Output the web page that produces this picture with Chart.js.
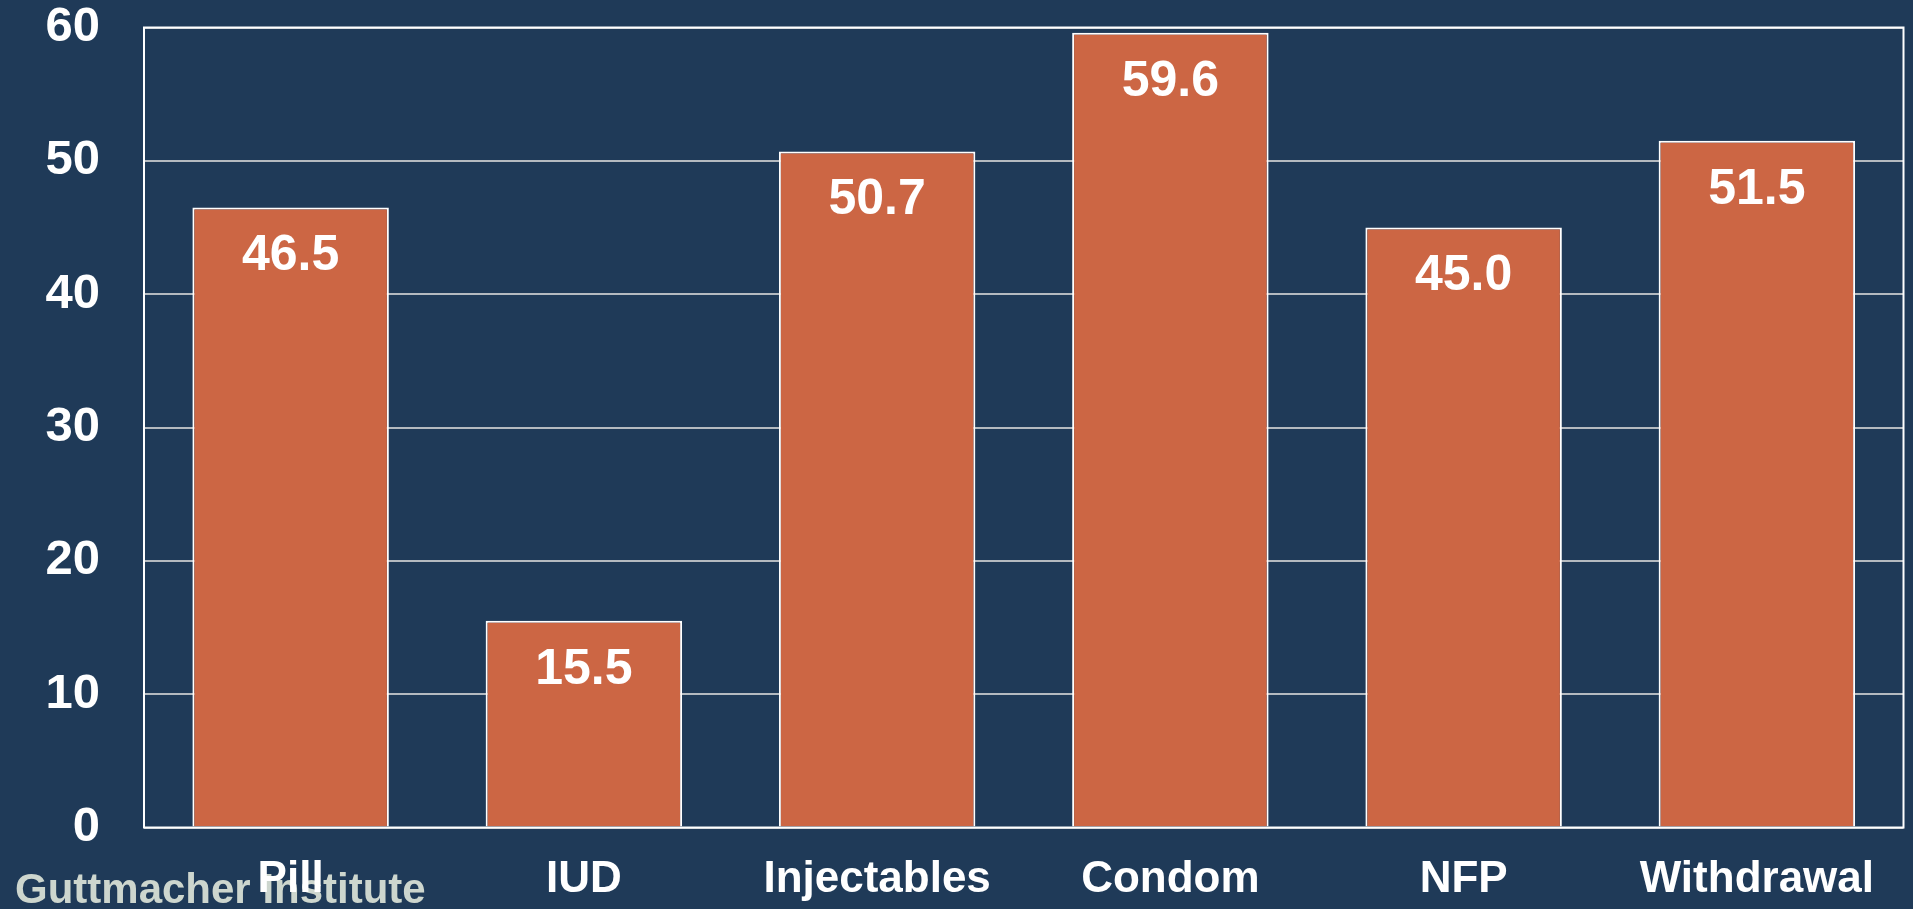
<!DOCTYPE html>
<html>
<head>
<meta charset="utf-8">
<script src="https://cdn.jsdelivr.net/npm/chart.js@4"></script>
<style>
  html, body { margin: 0; padding: 0; background: #1F3A58; overflow: hidden; }
  #wrap { position: relative; width: 1913px; height: 909px; }
</style>
</head>
<body>
<div id="wrap"><canvas id="c" width="1913" height="909"></canvas></div>
<script>
const categories = ["Pill", "IUD", "Injectables", "Condom", "NFP", "Withdrawal"];
const values = [46.5, 15.5, 50.7, 59.6, 45.0, 51.5];
const yTicks = [0, 10, 20, 30, 40, 50, 60];
const sourceText = "Guttmacher Institute";

const BG = "#1F3A58";
const FONT = "'Liberation Sans', Arial, sans-serif";

const bgPlugin = {
  id: "bg",
  beforeDraw(chart) {
    const ctx = chart.ctx;
    ctx.save();
    ctx.fillStyle = BG;
    ctx.fillRect(0, 0, chart.width, chart.height);
    ctx.fillStyle = "#CDD6CE";
    ctx.font = "bold 42px " + FONT;
    ctx.textAlign = "left";
    ctx.textBaseline = "alphabetic";
    ctx.fillText(sourceText, 15, 903);
    ctx.restore();
  }
};

const framePlugin = {
  id: "frame",
  afterDatasetsDraw(chart) {
    const ctx = chart.ctx;
    const a = chart.chartArea;
    ctx.save();
    ctx.strokeStyle = "#FFFFFF";
    ctx.lineWidth = 2;
    ctx.strokeRect(a.left, a.top, a.right - a.left, a.bottom - a.top);
    const meta = chart.getDatasetMeta(0);
    ctx.fillStyle = "#FFFFFF";
    ctx.font = "bold 50px " + FONT;
    ctx.textAlign = "center";
    ctx.textBaseline = "middle";
    meta.data.forEach((bar, i) => {
      ctx.fillText(values[i].toFixed(1), bar.x, bar.y + 49);
    });
    ctx.restore();
  }
};

new Chart(document.getElementById("c"), {
  type: "bar",
  data: {
    labels: categories,
    datasets: [{
      data: values,
      backgroundColor: "#CC6644",
      borderColor: "#FFFFFF",
      borderWidth: 2,
      barPercentage: 0.67,
      categoryPercentage: 1.0
    }]
  },
  options: {
    responsive: false,
    animation: false,
    devicePixelRatio: 1,
    layout: { padding: { left: 0, right: 9.5, top: 27.5, bottom: 0 } },
    plugins: { legend: { display: false }, tooltip: { enabled: false } },
    scales: {
      x: {
        grid: { display: false, drawTicks: false },
        border: { display: false },
        ticks: {
          color: "#FFFFFF",
          font: { family: FONT, size: 44, weight: "bold" },
          padding: 26,
          maxRotation: 0,
          autoSkip: false
        },
        afterFit(s) { s.height = 81.5; s.paddingLeft = 0; s.paddingRight = 0; }
      },
      y: {
        min: 0, max: 60,
        afterBuildTicks(s) { s.ticks = yTicks.map(v => ({ value: v })); },
        grid: { color: "#B4BAC0", lineWidth: 2, drawTicks: false },
        border: { display: false },
        ticks: {
          color: "#FFFFFF",
          font: { family: FONT, size: 49, weight: "bold" },
          padding: 44
        },
        afterFit(s) { s.width = 144; s.paddingTop = 0; s.paddingBottom = 0; }
      }
    }
  },
  plugins: [bgPlugin, framePlugin]
});
</script>
</body>
</html>
